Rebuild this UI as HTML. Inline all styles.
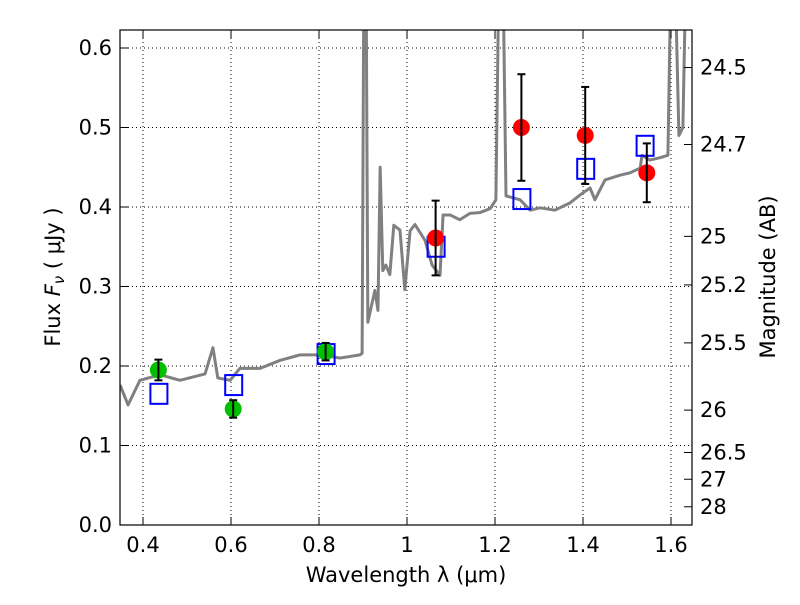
<!DOCTYPE html>
<html><head><meta charset="utf-8"><style>body{margin:0;background:#fff}svg text{font-family:"DejaVu Sans","Liberation Sans",sans-serif;fill:#000}</style></head>
<body>
<svg id="c" width="800" height="600" xmlns="http://www.w3.org/2000/svg">
<defs><clipPath id="clip"><rect x="120" y="30" width="572" height="495"/></clipPath></defs>
<rect x="0" y="0" width="800" height="600" fill="#fff"/>
<g id="grid"></g>
<g id="spec" clip-path="url(#clip)"></g>
<g id="marks"></g>
<rect x="120" y="30" width="572" height="495" fill="none" stroke="#000" stroke-width="1.2"/>
<g id="axes"></g>
<text x="406" y="582" font-size="21" text-anchor="middle">Wavelength  λ (μm)</text>
<text transform="translate(60,277) rotate(-90)" font-size="21" text-anchor="middle">Flux  <tspan font-style="italic">F</tspan><tspan font-style="italic" font-size="15" dy="4">ν</tspan><tspan dy="-4">  ( μJy )</tspan></text>
<text transform="translate(775,277) rotate(-90)" font-size="21" text-anchor="middle">Magnitude (AB)</text>
</svg>
<script>
const specWl=[0.348,0.366,0.393,0.439,0.484,0.541,0.559,0.570,0.598,0.620,0.666,0.711,0.757,0.802,0.848,0.893,0.898,0.902,0.907,0.911,0.927,0.934,0.939,0.945,0.952,0.961,0.970,0.984,0.995,1.007,1.018,1.041,1.057,1.075,1.082,1.098,1.120,1.143,1.166,1.189,1.202,1.209,1.218,1.225,1.257,1.280,1.302,1.336,1.370,1.393,1.416,1.427,1.450,1.484,1.507,1.530,1.534,1.552,1.575,1.593,1.600,1.609,1.618,1.627,1.634];
const specFlux=[0.176,0.151,0.182,0.189,0.182,0.190,0.223,0.185,0.182,0.197,0.197,0.207,0.214,0.214,0.210,0.214,0.216,0.70,0.70,0.255,0.295,0.270,0.450,0.320,0.327,0.315,0.377,0.371,0.296,0.370,0.378,0.358,0.327,0.314,0.390,0.390,0.384,0.392,0.393,0.398,0.409,0.70,0.70,0.414,0.409,0.396,0.399,0.396,0.405,0.415,0.424,0.409,0.434,0.440,0.443,0.449,0.465,0.459,0.462,0.465,0.70,0.70,0.49,0.50,0.70];
const optWl=[0.435,0.605,0.815];
const optFlux=[0.195,0.146,0.218];
const optErr=[0.013,0.011,0.011];
const nirWl=[1.065,1.26,1.405,1.545];
const nirFlux=[0.361,0.500,0.490,0.443];
const nirErr=[0.047,0.067,0.061,0.037];
const modelWl=[0.435,0.605,0.815,1.065,1.26,1.405,1.54];
const modelFlux=[0.165,0.176,0.215,0.350,0.410,0.448,0.477];
const xTicks=[0.4,0.6,0.8,1,1.2,1.4,1.6];
const xTickLabels=["0.4","0.6","0.8","1","1.2","1.4","1.6"];
const yTicks=[0,0.1,0.2,0.3,0.4,0.5,0.6];
const yTickLabels=["0.0","0.1","0.2","0.3","0.4","0.5","0.6"];
const magTicks=[24.5,24.7,25,25.2,25.5,26,26.5,27,28];
const magLabels=["24.5","24.7","25","25.2","25.5","26","26.5","27","28"];

const X=w=>143+(w-0.4)*440;
const Y=f=>525-f*795;
const NS="http://www.w3.org/2000/svg";
function mk(tag,attrs,parent){const e=document.createElementNS(NS,tag);for(const k in attrs)e.setAttribute(k,attrs[k]);document.getElementById(parent).appendChild(e);return e;}

xTicks.forEach((t,i)=>{
 const g=mk('line',{x1:X(t),x2:X(t),y1:30,y2:525,stroke:'#000','stroke-width':1,'stroke-dasharray':'1,3'},'grid');
 
 mk('line',{x1:X(t),x2:X(t),y1:525,y2:517,stroke:'#000'},'axes');
 mk('line',{x1:X(t),x2:X(t),y1:30,y2:38,stroke:'#000'},'axes');
 const tx=mk('text',{x:X(t),y:552,'font-size':21,'text-anchor':'middle'},'axes');tx.textContent=xTickLabels[i];
 
});
yTicks.forEach((t,i)=>{
 const g=mk('line',{x1:120,x2:692,y1:Y(t),y2:Y(t),stroke:'#000','stroke-width':1,'stroke-dasharray':'1,3'},'grid');
 
 mk('line',{x1:120,x2:128,y1:Y(t),y2:Y(t),stroke:'#000'},'axes');
 const tx=mk('text',{x:112,y:Y(t)+7,'font-size':21,'text-anchor':'end'},'axes');tx.textContent=yTickLabels[i];
 
});
magTicks.forEach((m,i)=>{
 const y=Y(Math.pow(10,-(m-23.9)/2.5));
 mk('line',{x1:684,x2:692,y1:y,y2:y,stroke:'#000'},'axes');
 const tx=mk('text',{x:700,y:y+7,'font-size':21},'axes');tx.textContent=magLabels[i];
 
});
const sp=mk('polyline',{points:specWl.map((w,i)=>X(w)+','+Y(specFlux[i])).join(' '),fill:'none',stroke:'#808080','stroke-width':3,'stroke-linejoin':'round'},'spec');

function errbar(w,f,e){
 mk('line',{x1:X(w),x2:X(w),y1:Y(f-e),y2:Y(f+e),stroke:'#000','stroke-width':2},'marks');
 mk('line',{x1:X(w)-4,x2:X(w)+4,y1:Y(f-e),y2:Y(f-e),stroke:'#000','stroke-width':2},'marks');
 mk('line',{x1:X(w)-4,x2:X(w)+4,y1:Y(f+e),y2:Y(f+e),stroke:'#000','stroke-width':2},'marks');
}
modelWl.forEach((w,i)=>{
 const r=mk('rect',{x:X(w)-8,y:Y(modelFlux[i])-10,width:17,height:20,fill:'none',stroke:'#0000ff','stroke-width':2},'marks');
 
});
optWl.forEach((w,i)=>{
 const c=mk('circle',{cx:X(w),cy:Y(optFlux[i]),r:8.5,fill:'#00c000'},'marks');
 
 errbar(w,optFlux[i],optErr[i]);
});
nirWl.forEach((w,i)=>{
 const c=mk('circle',{cx:X(w),cy:Y(nirFlux[i]),r:8.5,fill:'#ff0000'},'marks');
 
 errbar(w,nirFlux[i],nirErr[i]);
});
</script>
</body></html>
